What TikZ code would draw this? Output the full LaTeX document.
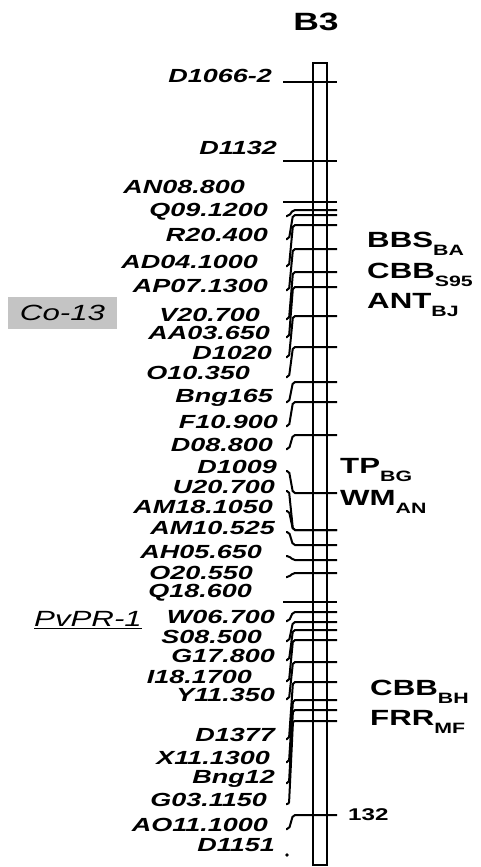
\documentclass[tikz,border=0pt]{standalone}
\usepackage{fontspec}
\usepackage{tikz}
\usetikzlibrary{calc,positioning}
\newfontfamily\arl[FakeStretch=1.42]{Liberation Sans}
\definecolor{boxgray}{HTML}{C4C4C4}
\newcommand{\sbx}[1]{\raisebox{-8pt}{\fontsize{15}{15}\selectfont #1}}
\tikzset{
  mk/.style={font=\arl\bfseries\itshape\fontsize{19}{20}\selectfont,anchor=east,inner sep=0pt},
  trait/.style={font=\arl\bfseries\fontsize{22}{24}\selectfont,anchor=base west,inner sep=0pt},
  tk/.style={line width=2pt},
  cn/.style={line width=2pt,rounded corners=2pt}
}

\begin{document}
\begin{tikzpicture}[x=1pt,y=-1pt]
\useasboundingbox (0,0) rectangle (480,867);
\node[font=\arl\bfseries\fontsize{25}{25}\selectfont] (ttl) at (316,22) {B3};
% chromosome bar
\draw[line width=2pt] (313,63) rectangle (327,865);
% markers sitting on long ticks
\foreach \nm/\lx/\ly/\ty [count=\i] in {D1066-2/272/76/82,D1132/277/148/161,AN08.800/245/187/202,Q18.600/252/593/602}{
  \node[mk] (l\i) at (\lx,\ly) {\nm};
  \coordinate (a\i) at (283,\ty);
  \coordinate (b\i) at (337,\ty);
  \draw[tk] (a\i) -- (b\i);
}
% markers joined to their ticks
\foreach \nm/\lx/\ly/\ty [count=\i] in {
  Q09.1200/268/212/210, R20.400/268/235/215, AD04.1000/258/262/225, AP07.1300/268/286/249,
  V20.700/260/315/272, AA03.650/270/333/287, D1020/272/353/316, O10.350/250/373/347,
  Bng165/273/398/382, F10.900/278/422/402, D08.800/273/445/435, D1009/277/467/493,
  U20.700/275/487/530, AM18.1050/273/507/530, AM10.525/275/528/545, AH05.650/262/552/560,
  O20.550/253/573/573, W06.700/275/617/612, S08.500/262/637/622, G17.800/275/656/630,
  I18.1700/252/677/640, Y11.350/275/695/662, D1377/275/735/682, X11.1300/270/758/700,
  Bng12/275/779/710, G03.1150/267/800/721, AO11.1000/268/825/815}{
  \node[mk] (n\i) at (\lx,\ly) {\nm};
  \coordinate (h\i) at (286,\ly+4);
  \coordinate (t\i) at (297,\ty);
  \coordinate (e\i) at (337,\ty);
  \draw[cn] (h\i) -- ++(3,0) -- ($(t\i)+(-4,0)$) -- (t\i) -- (e\i);
}
\node[mk] (n28) at (275,845) {D1151};
\fill (287,855) circle (1.8);
\node[font=\arl\bfseries\fontsize{17}{17}\selectfont,anchor=west,inner sep=0pt,right=11pt of e27] (len) {132};
% traits
\node[trait] (bbs) at (367,247) {BBS\sbx{BA}};
\node[trait] (cbba) at (367,278) {CBB\sbx{S95}};
\node[trait] (ant) at (367,308) {ANT\sbx{BJ}};
\node[trait] (tp) at (340,473) {TP\sbx{BG}};
\node[trait] (wm) at (340,505) {WM\sbx{AN}};
\node[trait] (cbbb) at (370,695) {CBB\sbx{BH}};
\node[trait] (frr) at (370,725) {FRR\sbx{MF}};
% genes
\node[fill=boxgray,minimum width=109pt,minimum height=32pt,inner sep=0pt,font=\arl\itshape\fontsize{22}{22}\selectfont] (co) at (62.5,313) {Co-13};
\node[font=\arl\itshape\fontsize{22}{22}\selectfont,inner sep=0pt] (pv) at (88,620) {\underline{PvPR-1}};
\end{tikzpicture}
\end{document}
